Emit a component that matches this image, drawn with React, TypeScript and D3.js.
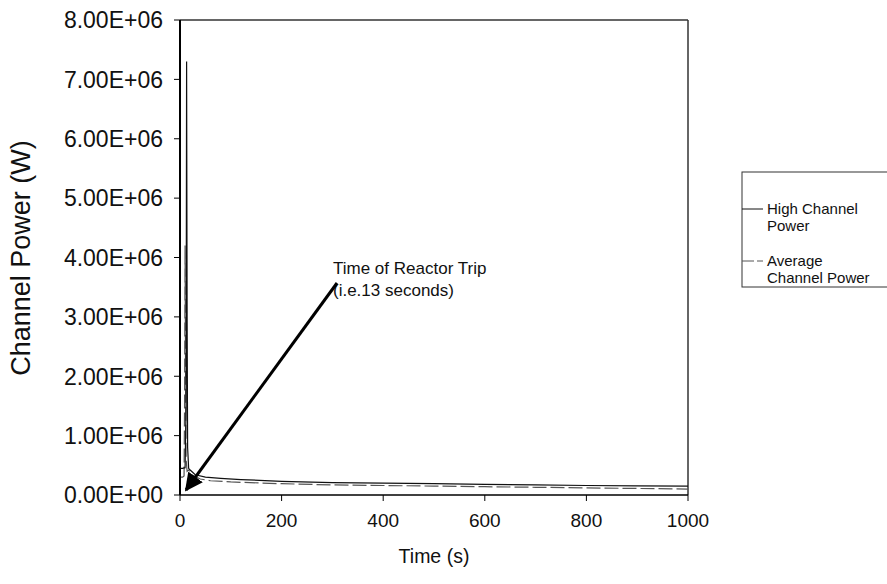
import React from "react";
import * as d3 from "d3";

const highT = [0, 5, 10, 12, 13, 14, 15, 17, 20, 30, 50, 80, 120, 200, 300, 400, 500, 600, 700, 800, 900, 1000];
const highP = [0.45e6, 0.45e6, 0.46e6, 1.5e6, 7.3e6, 3.0e6, 0.8e6, 0.45e6, 0.42e6, 0.34e6, 0.3e6, 0.28e6, 0.26e6, 0.23e6, 0.21e6, 0.2e6, 0.19e6, 0.18e6, 0.17e6, 0.16e6, 0.155e6, 0.15e6];
const avgT = [0, 5, 8, 9, 10, 11, 12, 14, 17, 25, 40, 60, 100, 200, 300, 400, 500, 600, 700, 800, 900, 1000];
const avgP = [0.3e6, 0.3e6, 0.32e6, 1.5e6, 4.2e6, 1.8e6, 0.6e6, 0.4e6, 0.42e6, 0.33e6, 0.27e6, 0.24e6, 0.22e6, 0.19e6, 0.17e6, 0.16e6, 0.15e6, 0.14e6, 0.13e6, 0.12e6, 0.11e6, 0.1e6];
const yTicks = [0, 1e6, 2e6, 3e6, 4e6, 5e6, 6e6, 7e6, 8e6];
const yTickLabels = ["0.00E+00", "1.00E+06", "2.00E+06", "3.00E+06", "4.00E+06", "5.00E+06", "6.00E+06", "7.00E+06", "8.00E+06"];
const xTicks = [0, 200, 400, 600, 800, 1000];
const seriesNames = ["High Channel Power", "Average Channel Power"];

export default function App() {
  const W = 887, H = 584;
  const x = d3.scaleLinear().domain([0, 1000]).range([180, 688]);
  const y = d3.scaleLinear().domain([0, 8e6]).range([495, 20]);
  const line = d3.line<[number, number]>().x(d => x(d[0])).y(d => y(d[1]));
  const high = line(highT.map((t, i) => [t, highP[i]]));
  const avg = line(avgT.map((t, i) => [t, avgP[i]]));
  const font = "'Liberation Sans', Arial, sans-serif";
  return (
    <svg width={W} height={H} style={{ position: "absolute", left: 0, top: 0, background: "#fff" }} fontFamily={font}>
      <defs>
        <marker id="ah" viewBox="0 0 10 10" refX="9" refY="5" markerWidth="6" markerHeight="6" orient="auto" markerUnits="strokeWidth">
          <path d="M0,0 L10,5 L0,10 z" fill="#000" />
        </marker>
      </defs>
      <line x1={180} x2={688} y1={20} y2={20} stroke="#333" strokeWidth={1.5} />
      <line x1={688} x2={688} y1={20} y2={495} stroke="#333" strokeWidth={1.5} />
      <path d={avg ?? ""} fill="none" stroke="#555" strokeWidth={1.2} strokeDasharray="14,4" />
      <path d={high ?? ""} fill="none" stroke="#111" strokeWidth={1.2} />
      <line x1={180} x2={180} y1={20} y2={495} stroke="#000" strokeWidth={2} />
      <line x1={180} x2={688} y1={495} y2={495} stroke="#000" strokeWidth={1.5} />
      {yTicks.map((v, i) => (
        <g key={v}>
          <line x1={174} x2={180} y1={y(v)} y2={y(v)} stroke="#000" />
          <text x={163} y={y(v)} dy="0.36em" textAnchor="end" fontSize={23} fill="#111">{yTickLabels[i]}</text>
        </g>
      ))}
      {xTicks.map(v => (
        <g key={v}>
          <line x1={x(v)} x2={x(v)} y1={495} y2={501} stroke="#000" />
          <text x={x(v)} y={527} textAnchor="middle" fontSize={19} fill="#111">{v}</text>
        </g>
      ))}
      <text x={434} y={563} textAnchor="middle" fontSize={19.5} fill="#111">Time (s)</text>
      <text transform="translate(30,258) rotate(-90)" textAnchor="middle" fontSize={27} fill="#111">Channel Power (W)</text>
      <text x={333} y={274} fontSize={17} fill="#111">Time of Reactor Trip</text>
      <text x={333} y={296} fontSize={17} fill="#111">(i.e.13 seconds)</text>
      <line x1={337} x2={186} y1={283} y2={490} stroke="#000" strokeWidth={3} markerEnd="url(#ah)" />
      <rect x={742} y={172} width={160} height={115} fill="#fff" stroke="#333" strokeWidth={1} />
      <line x1={742} x2={763} y1={209} y2={209} stroke="#111" strokeWidth={1} />
      <text x={767} y={214} fontSize={15} fill="#111">High Channel</text>
      <text x={767} y={231} fontSize={15} fill="#111">Power</text>
      <line x1={742} x2={763} y1={261} y2={261} stroke="#555" strokeWidth={1} strokeDasharray="12,3" />
      <text x={767} y={266} fontSize={15} fill="#111">Average</text>
      <text x={767} y={283} fontSize={15} fill="#111">Channel Power</text>
      <title>{seriesNames.join(", ")}</title>
    </svg>
  );
}
